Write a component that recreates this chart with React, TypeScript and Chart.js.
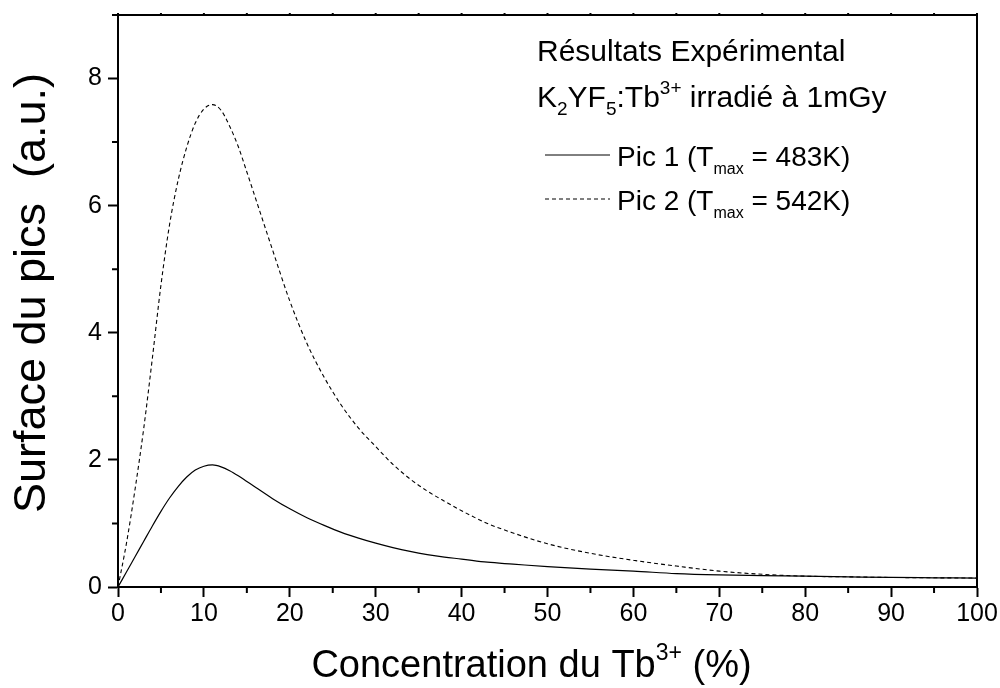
import React, { useEffect, useRef } from "react";
import { Chart, registerables } from "chart.js";

Chart.register(...registerables);

const concentration = [0, 1, 2, 3, 4, 5, 6, 7, 8, 9, 10, 11, 12, 13, 14, 15, 16, 18, 20, 22, 24, 26, 28, 30, 32, 34, 36, 38, 40, 43, 46, 50, 55, 60, 65, 70, 75, 80, 85, 90, 95, 100];
const pic1 = [0, 0.24, 0.48, 0.72, 0.96, 1.19, 1.4, 1.58, 1.73, 1.84, 1.9, 1.92, 1.89, 1.83, 1.75, 1.66, 1.57, 1.39, 1.23, 1.09, 0.97, 0.86, 0.77, 0.69, 0.62, 0.56, 0.51, 0.47, 0.44, 0.39, 0.36, 0.32, 0.28, 0.25, 0.21, 0.19, 0.18, 0.17, 0.16, 0.15, 0.145, 0.14];
const pic2 = [0, 0.7, 1.55, 2.5, 3.6, 4.75, 5.7, 6.4, 6.92, 7.3, 7.52, 7.59, 7.5, 7.25, 6.93, 6.53, 6.12, 5.3, 4.5, 3.83, 3.3, 2.86, 2.5, 2.21, 1.93, 1.7, 1.51, 1.35, 1.2, 1.0, 0.85, 0.68, 0.53, 0.42, 0.33, 0.25, 0.2, 0.17, 0.16, 0.15, 0.145, 0.14];
const xMajorTicks = [0, 10, 20, 30, 40, 50, 60, 70, 80, 90, 100];
const xMinorTicks = [5, 15, 25, 35, 45, 55, 65, 75, 85, 95];
const yMajorTicks = [0, 2, 4, 6, 8];
const yMinorTicks = [1, 3, 5, 7, 9];

const FONT = "'Liberation Sans', Arial, sans-serif";

type Part = { t: string; size: number; dy?: number };

function drawRich(ctx: CanvasRenderingContext2D, x: number, y: number, parts: Part[], align: "left" | "center") {
  let total = 0;
  for (const p of parts) {
    ctx.font = `${p.size}px ${FONT}`;
    total += ctx.measureText(p.t).width;
  }
  let cx = align === "center" ? x - total / 2 : x;
  ctx.textAlign = "left";
  ctx.textBaseline = "alphabetic";
  for (const p of parts) {
    ctx.font = `${p.size}px ${FONT}`;
    ctx.fillText(p.t, cx, y + (p.dy || 0));
    cx += ctx.measureText(p.t).width;
  }
}

const decorPlugin = {
  id: "decor",
  afterDraw(chart: any) {
    const ctx: CanvasRenderingContext2D = chart.ctx;
    const { left, right, top, bottom } = chart.chartArea;
    const xs = chart.scales.x;
    const ys = chart.scales.y;
    ctx.save();
    ctx.strokeStyle = "#000";
    ctx.fillStyle = "#000";
    ctx.lineWidth = 2;
    ctx.beginPath();
    ctx.moveTo(left - 1, top);
    ctx.lineTo(right, top);
    ctx.lineTo(right, bottom);
    ctx.stroke();
    ctx.beginPath();
    for (const v of xMinorTicks) {
      const px = xs.getPixelForValue(v);
      ctx.moveTo(px, bottom);
      ctx.lineTo(px, bottom + 6);
    }
    for (const v of yMinorTicks) {
      const py = ys.getPixelForValue(v);
      ctx.moveTo(left, py);
      ctx.lineTo(left - 6, py);
    }
    for (const v of [...xMajorTicks, ...xMinorTicks]) {
      const px = xs.getPixelForValue(v);
      ctx.moveTo(px, top);
      ctx.lineTo(px, top - 2);
    }
    ctx.stroke();

    drawRich(ctx, (left + right) / 2 - 16, 677, [
      { t: "Concentration du Tb", size: 38 },
      { t: "3+", size: 23, dy: -17 },
      { t: " (%)", size: 38 },
    ], "center");
    ctx.save();
    ctx.translate(45, (top + bottom) / 2 - 8);
    ctx.rotate(-Math.PI / 2);
    drawRich(ctx, 0, 0, [{ t: "Surface du pics  (a.u.)", size: 45 }], "center");
    ctx.restore();

    drawRich(ctx, 537, 61, [{ t: "Résultats Expérimental", size: 30 }], "left");
    drawRich(ctx, 537, 107, [
      { t: "K", size: 30 },
      { t: "2", size: 19, dy: 8 },
      { t: "YF", size: 30 },
      { t: "5", size: 19, dy: 8 },
      { t: ":Tb", size: 30 },
      { t: "3+", size: 19, dy: -13 },
      { t: " irradié à 1mGy", size: 30 },
    ], "left");

    ctx.lineWidth = 1;
    ctx.beginPath();
    ctx.moveTo(545, 155);
    ctx.lineTo(610, 155);
    ctx.stroke();
    ctx.setLineDash([4, 3]);
    ctx.beginPath();
    ctx.moveTo(545, 199);
    ctx.lineTo(610, 199);
    ctx.stroke();
    ctx.setLineDash([]);
    drawRich(ctx, 617, 166, [
      { t: "Pic 1 (T", size: 28 },
      { t: "max", size: 16, dy: 8 },
      { t: " = 483K)", size: 28 },
    ], "left");
    drawRich(ctx, 617, 210, [
      { t: "Pic 2 (T", size: 28 },
      { t: "max", size: 16, dy: 8 },
      { t: " = 542K)", size: 28 },
    ], "left");
    ctx.restore();
  },
};

export default function App() {
  const ref = useRef<HTMLCanvasElement>(null);
  useEffect(() => {
    if (!ref.current) return;
    const chart = new Chart(ref.current, {
      type: "line",
      data: {
        datasets: [
          {
            label: "Pic 1 (Tmax = 483K)",
            data: concentration.map((x, i) => ({ x, y: pic1[i] })),
            borderColor: "#000",
            borderWidth: 1.2,
            pointRadius: 0,
            cubicInterpolationMode: "monotone",
            fill: false,
          },
          {
            label: "Pic 2 (Tmax = 542K)",
            data: concentration.map((x, i) => ({ x, y: pic2[i] })),
            borderColor: "#000",
            borderWidth: 1.1,
            borderDash: [4, 3],
            pointRadius: 0,
            cubicInterpolationMode: "monotone",
            fill: false,
          },
        ],
      },
      plugins: [decorPlugin],
      options: {
        animation: false,
        responsive: true,
        maintainAspectRatio: false,
        layout: { padding: { top: 15, right: 23, left: 0, bottom: 0 } },
        plugins: { legend: { display: false }, tooltip: { enabled: false } },
        scales: {
          x: {
            type: "linear",
            min: 0,
            max: 100,
            afterBuildTicks: (s: any) => {
              s.ticks = xMajorTicks.map((v) => ({ value: v }));
            },
            afterFit: (s: any) => {
              s.height = 101;
              s.paddingLeft = 0;
              s.paddingRight = 0;
            },
            ticks: { color: "#000", font: { family: FONT, size: 25 }, padding: 2, maxRotation: 0 },
            grid: { drawOnChartArea: false, drawTicks: true, tickLength: 10, tickWidth: 2, tickColor: "#000" },
            border: { display: true, width: 2, color: "#000" },
          },
          y: {
            type: "linear",
            min: 0,
            max: 9,
            afterBuildTicks: (s: any) => {
              s.ticks = yMajorTicks.map((v) => ({ value: v }));
            },
            afterFit: (s: any) => {
              s.width = 118;
              s.paddingTop = 0;
              s.paddingBottom = 0;
            },
            ticks: { color: "#000", font: { family: FONT, size: 25 }, padding: 6 },
            grid: { drawOnChartArea: false, drawTicks: true, tickLength: 10, tickWidth: 2, tickColor: "#000" },
            border: { display: true, width: 2, color: "#000" },
          },
        },
      },
    } as any);
    return () => chart.destroy();
  }, []);
  return (
    <div style={{ position: "absolute", left: 0, top: 0, width: 1000, height: 688, background: "#fff" }}>
      <canvas ref={ref} />
    </div>
  );
}
